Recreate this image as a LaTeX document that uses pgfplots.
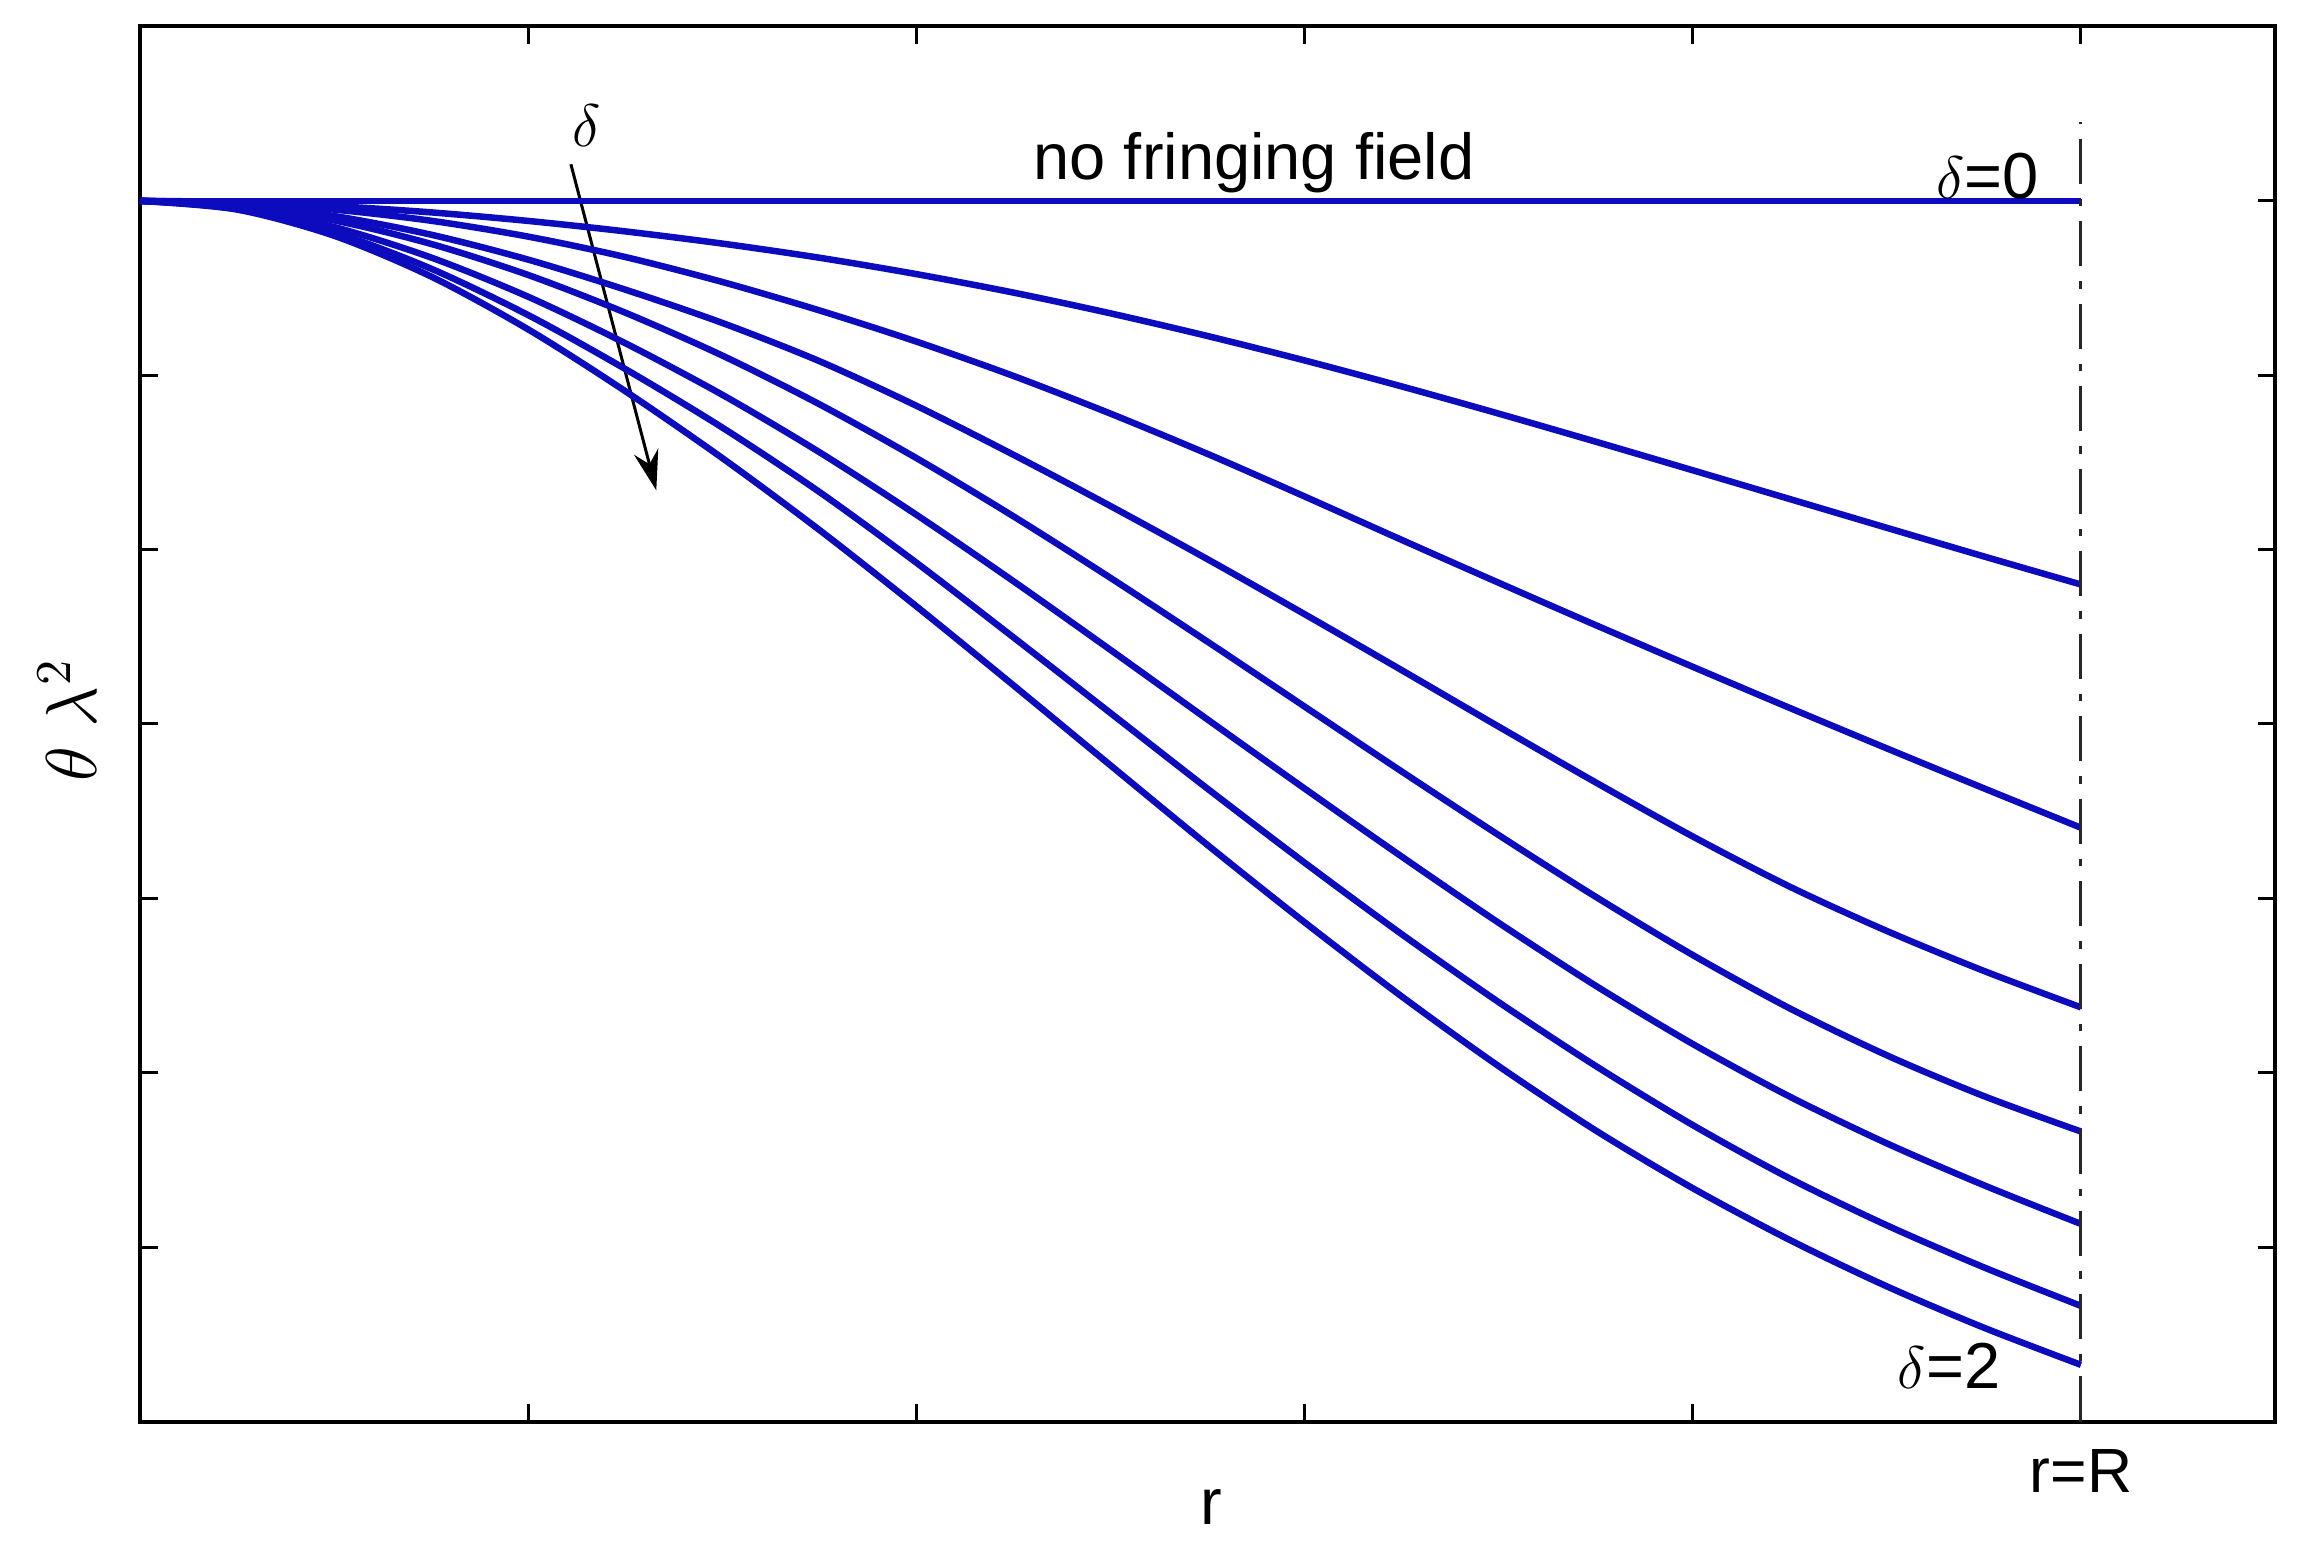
\documentclass[border=0pt]{standalone}
\usepackage{pgfplots}
\pgfplotsset{compat=1.18}
\usepackage{pgfplotstable}
\usepackage{fontspec}
\setmainfont{Liberation Sans}
\usetikzlibrary{arrows.meta}
\definecolor{cb}{RGB}{12,12,190}

\pgfplotstableread{
r    c1     c2     c3     c4     c5     c6     c7
0    7.000  7.000  7.000  7.000  7.000  7.000  7.000
0.25 6.993  6.988  6.978  6.972  6.963  6.955  6.950
0.5  6.970  6.950  6.913  6.888  6.850  6.820  6.800
0.75 6.934  6.886  6.806  6.753  6.675  6.611  6.566
1    6.885  6.795  6.663  6.575  6.450  6.345  6.263
1.25 6.825  6.678  6.491  6.359  6.184  6.036  5.909
1.5  6.755  6.535  6.300  6.113  5.888  5.700  5.525
1.75 6.674  6.372  6.081  5.834  5.559  5.331  5.113
2    6.580  6.193  5.825  5.525  5.200  4.925  4.675
2.25 6.474  5.996  5.544  5.191  4.819  4.497  4.222
2.5  6.355  5.780  5.250  4.838  4.425  4.063  3.763
2.75 6.225  5.549  4.945  4.472  4.026  3.629  3.306
3    6.085  5.305  4.630  4.100  3.630  3.205  2.863
3.25 5.936  5.056  4.309  3.728  3.240  2.795  2.438
3.5  5.780  4.810  3.985  3.363  2.860  2.405  2.038
3.75 5.619  4.567  3.665  3.009  2.499  2.039  1.669
4    5.455  4.328  3.355  2.675  2.165  1.700  1.338
4.25 5.290  4.092  3.067  2.369  1.863  1.394  1.041
4.5  5.125  3.860  2.813  2.100  1.595  1.125  0.775
4.75 4.961  3.631  2.584  1.866  1.355  0.884  0.538
5    4.800  3.405  2.375  1.663  1.133  0.663  0.325
}\curves

\begin{document}
\begin{tikzpicture}
\begin{axis}[
  scale only axis, width=427pt, height=279pt,
  xmin=0, xmax=5.5, ymin=0, ymax=8,
  xtick={1,2,3,4,5}, xticklabels={,,,,r=R},
  ytick={1,2,3,4,5,6,7}, yticklabels={},
  tick align=inside, tick pos=both, major tick length=3.5pt,
  axis line style={line width=0.8pt},
  every tick/.style={black, line width=0.6pt},
  tick label style={font=\fontsize{12.5}{15}\selectfont},
  xticklabel style={yshift=-2pt},
  xlabel={r}, ylabel={$\theta\ \lambda^{2}$},
  xlabel style={font=\fontsize{13}{15}\selectfont, at={(axis description cs:0.502,-0.061)}, anchor=center},
  ylabel style={font=\fontsize{14}{16}\selectfont, at={(axis description cs:-0.0342,0.503)}, anchor=center},
  clip=false,
]
\draw[-{Stealth[length=8pt,width=5pt]}, line width=0.6pt] (axis cs:1.11,7.21) -- (axis cs:1.33,5.34);
\node[font=\fontsize{13}{15}\selectfont] at (axis cs:1.15,7.43) {$\delta$};
\addplot[cb, line width=1.3pt, smooth] table[x=r,y=c1]{\curves};
\addplot[cb, line width=1.3pt, smooth] table[x=r,y=c2]{\curves};
\addplot[cb, line width=1.3pt, smooth] table[x=r,y=c3]{\curves};
\addplot[cb, line width=1.3pt, smooth] table[x=r,y=c4]{\curves};
\addplot[cb, line width=1.3pt, smooth] table[x=r,y=c5]{\curves};
\addplot[cb, line width=1.3pt, smooth] table[x=r,y=c6]{\curves};
\addplot[cb, line width=1.3pt, smooth] table[x=r,y=c7]{\curves};
\addplot[cb, line width=1.3pt] coordinates {(0,7) (5,7)};
\addplot[black!85, line width=0.6pt, dash pattern=on 9pt off 3pt on 1.5pt off 3pt] coordinates {(5,0) (5,7.45)};
\node[font=\fontsize{13}{15}\selectfont] at (axis cs:2.87,7.22) {no fringing field};
\node[font=\fontsize{13}{15}\selectfont] at (axis cs:4.76,7.14) {$\delta$=0};
\node[font=\fontsize{13}{15}\selectfont] at (axis cs:4.66,0.32) {$\delta$=2};
\end{axis}
\path ([shift={(-28pt,-24.6pt)}]current axis.south west) rectangle ([shift={(5.4pt,5.3pt)}]current axis.north east);
\end{tikzpicture}
\end{document}
